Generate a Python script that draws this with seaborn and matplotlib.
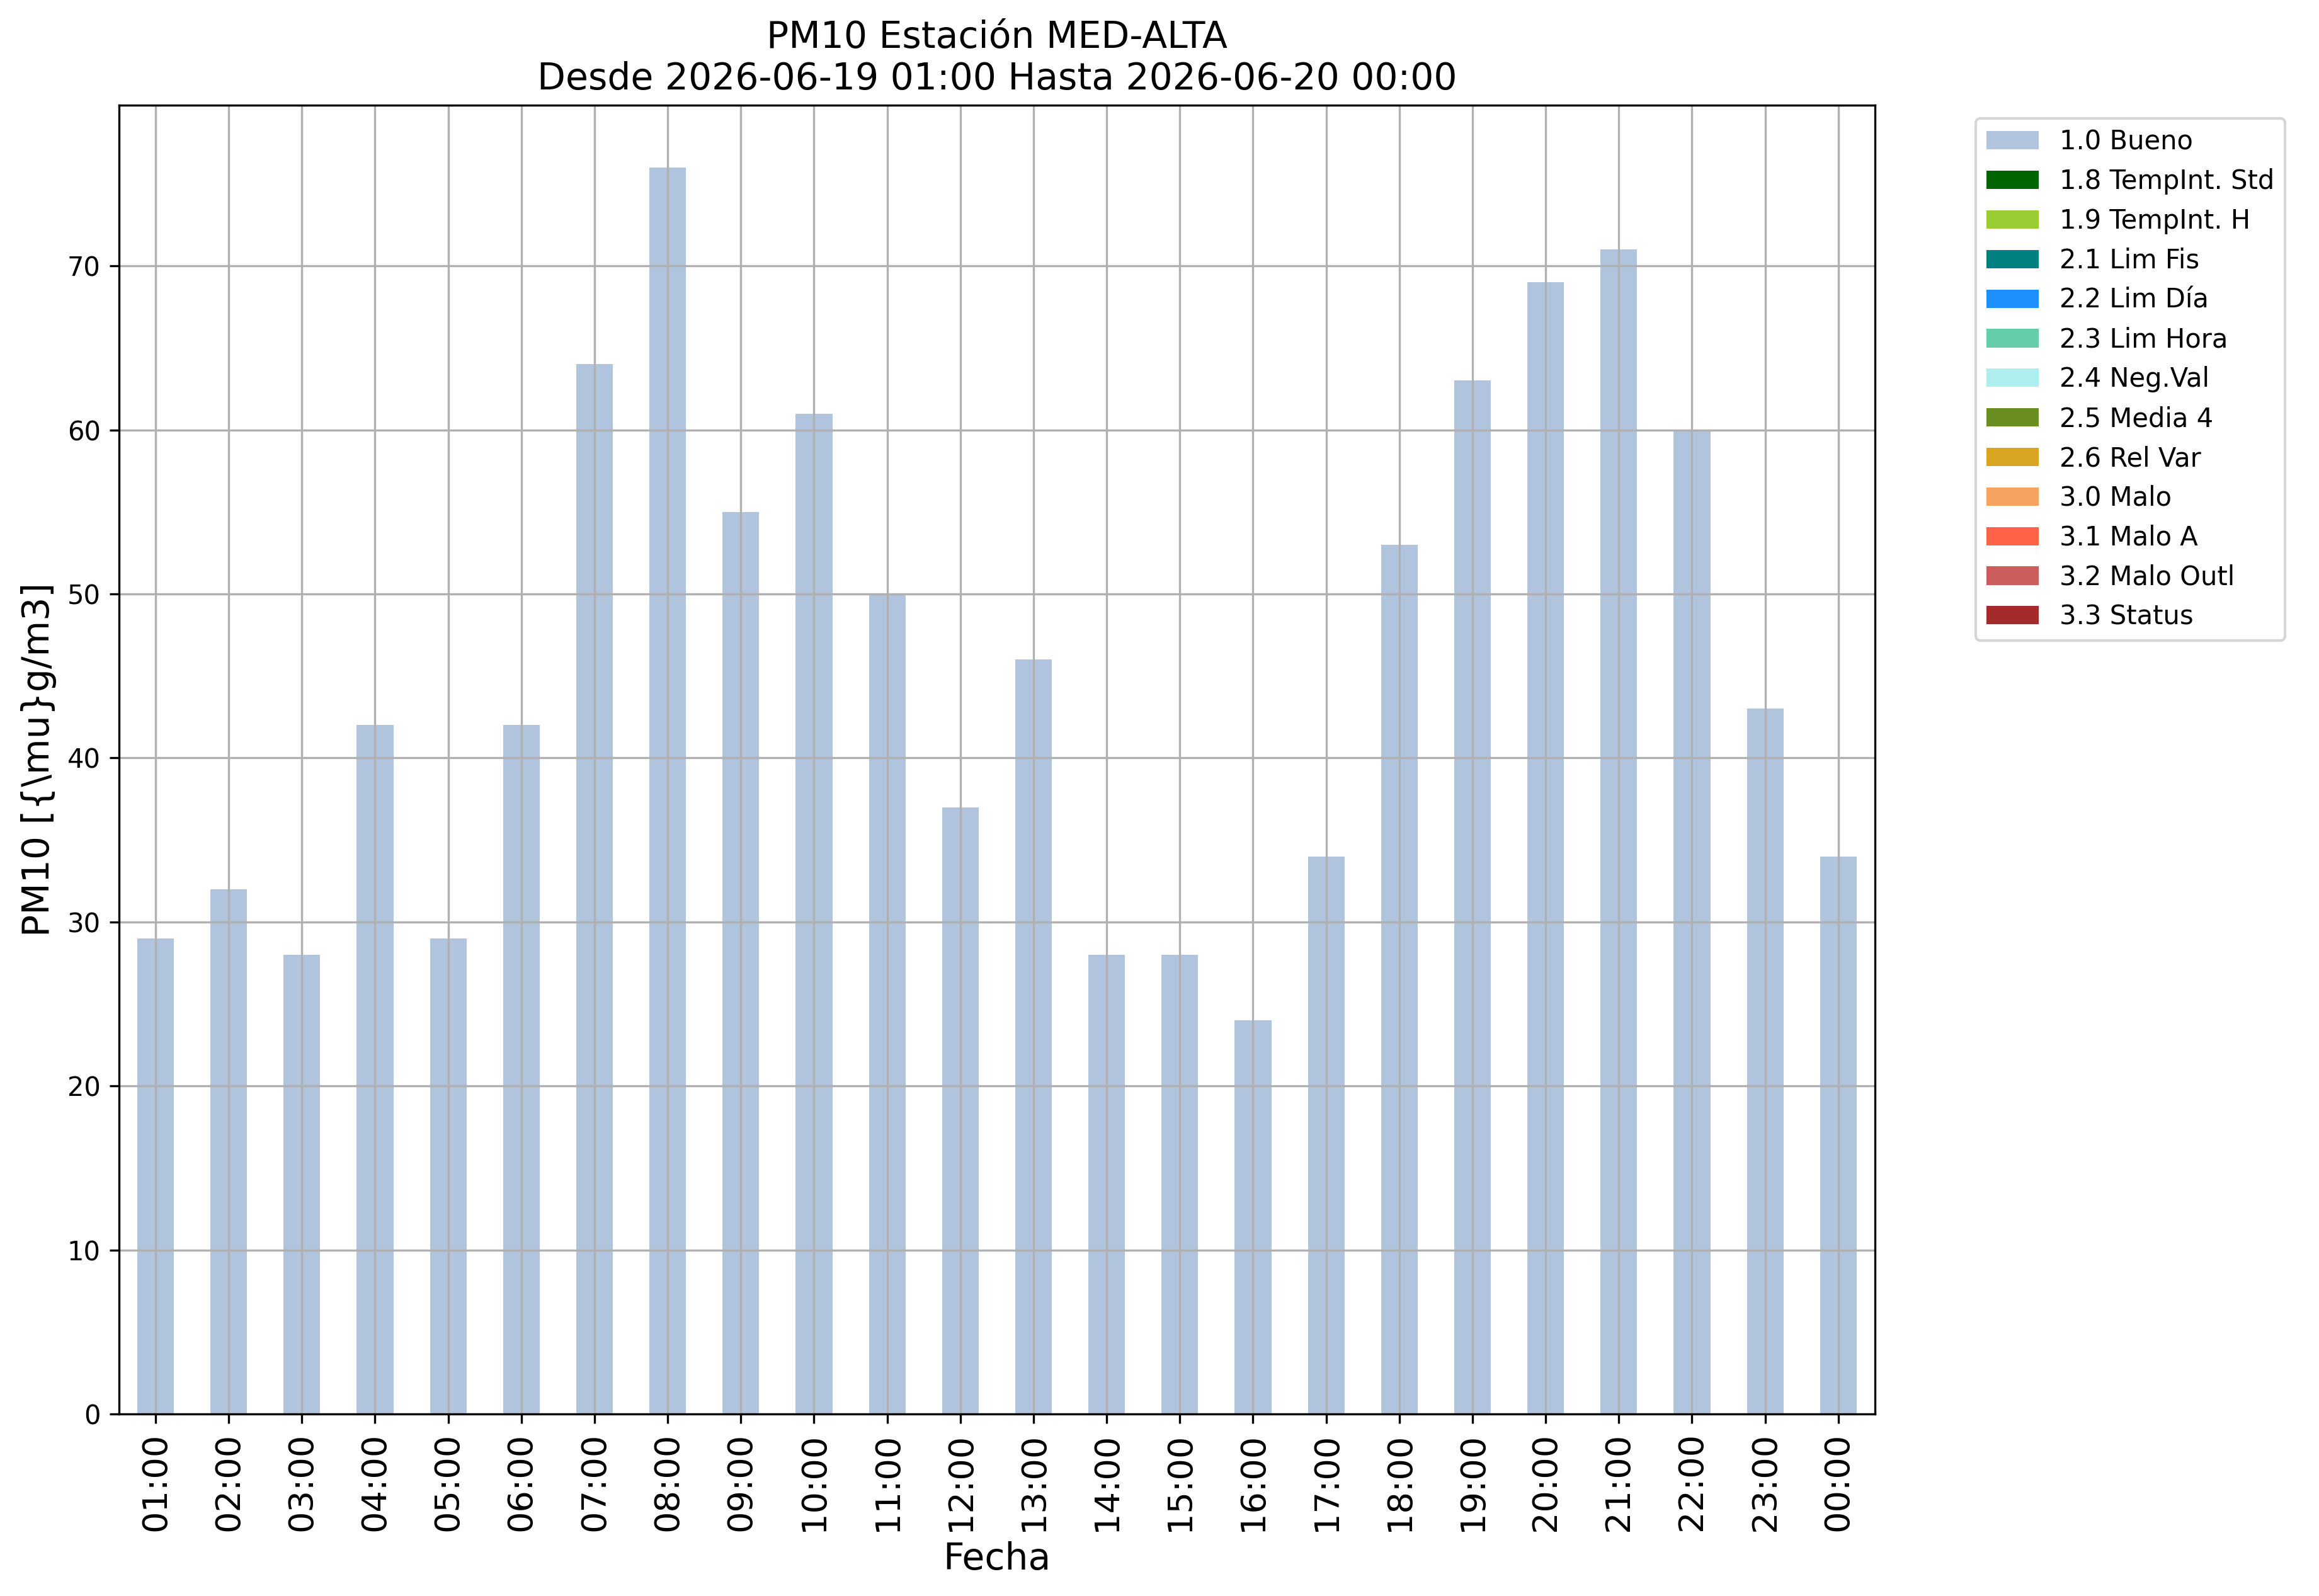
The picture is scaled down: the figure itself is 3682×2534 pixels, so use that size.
import matplotlib
matplotlib.use("Agg")
import matplotlib.pyplot as plt
import seaborn as sns
import pandas as pd
from matplotlib.patches import Patch

hours = ["01:00", "02:00", "03:00", "04:00", "05:00", "06:00", "07:00", "08:00",
         "09:00", "10:00", "11:00", "12:00", "13:00", "14:00", "15:00", "16:00",
         "17:00", "18:00", "19:00", "20:00", "21:00", "22:00", "23:00", "00:00"]
pm10 = [29, 32, 28, 42, 29, 42, 64, 76, 55, 61, 50, 37, 46, 28, 28, 24,
        34, 53, 63, 69, 71, 60, 43, 34]

flag_labels = ["1.0 Bueno", "1.8 TempInt. Std", "1.9 TempInt. H", "2.1 Lim Fis",
               "2.2 Lim Día", "2.3 Lim Hora", "2.4 Neg.Val", "2.5 Media 4",
               "2.6 Rel Var", "3.0 Malo", "3.1 Malo A", "3.2 Malo Outl", "3.3 Status"]
flag_colors = ["lightsteelblue", "darkgreen", "yellowgreen", "teal", "dodgerblue",
               "mediumaquamarine", "paleturquoise", "olivedrab", "goldenrod",
               "sandybrown", "tomato", "indianred", "brown"]

df = pd.DataFrame({"Fecha": hours, "PM10": pm10})

fig = plt.figure(figsize=(3682 / 300, 2534 / 300), dpi=300)
ax = fig.add_axes([0.0513, 0.114, 0.8085 - 0.0513, 0.9341 - 0.114])

sns.barplot(data=df, x="Fecha", y="PM10", order=hours, color=flag_colors[0],
            saturation=1, width=0.5, ax=ax)

ax.set_xlim(-0.5, len(hours) - 0.5)
ax.grid(True)
ax.tick_params(axis="x", labelrotation=90, labelsize=13)
ax.tick_params(axis="y", labelsize=10)
ax.set_xlabel("Fecha", fontsize=14)
ax.set_ylabel(r"PM10 [{\mu}g/m3]", fontsize=14)
ax.set_title("PM10 Estación MED-ALTA\nDesde 2026-06-19 01:00 Hasta 2026-06-20 00:00",
             fontsize=14)

handles = [Patch(facecolor=c, label=l) for c, l in zip(flag_colors, flag_labels)]
ax.legend(handles=handles, loc="upper left", bbox_to_anchor=(1.05, 1), fontsize=10)

fig.savefig("out.png", dpi=300)
